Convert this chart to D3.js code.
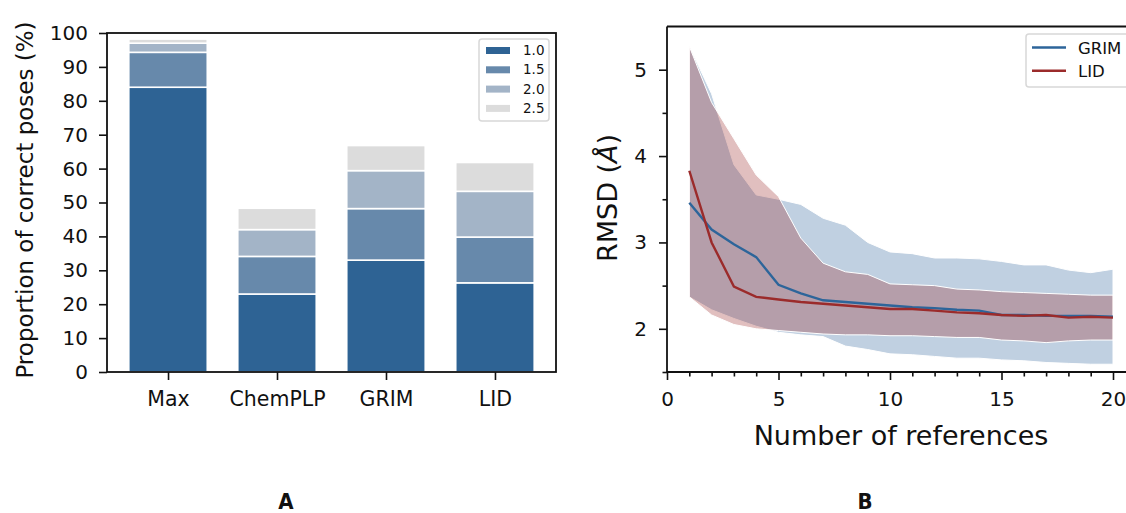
<!DOCTYPE html>
<html>
<head>
<meta charset="utf-8">
<script src="https://cdn.jsdelivr.net/npm/d3@7"></script>
<style>
  body { margin: 0; background: #fff; }
  text { font-family: "DejaVu Sans", sans-serif; fill: #111; }
</style>
</head>
<body>
<script>
// panel A data: cumulative % of correct poses at each RMSD cutoff
var methods = ["Max", "ChemPLP", "GRIM", "LID"];
var cutoffs = ["1.0", "1.5", "2.0", "2.5"];
var cut10 = [84.0, 23.0, 33.0, 26.3];
var cut15 = [94.3, 34.1, 48.2, 39.8];
var cut20 = [97.0, 42.0, 59.4, 53.3];
var cut25 = [98.2, 48.3, 66.8, 61.8];
var barColors = ["#2e6394", "#6789ab", "#a3b4c7", "#dcdcdc"];
var yTicksA = [0, 10, 20, 30, 40, 50, 60, 70, 80, 90, 100];

// panel B data: RMSD mean and band vs number of references
var nRefs = [1, 2, 3, 4, 5, 6, 7, 8, 9, 10, 11, 12, 13, 14, 15, 16, 17, 18, 19, 20];
var grimMean = [3.46, 3.15, 2.98, 2.83, 2.51, 2.41, 2.33, 2.31, 2.29, 2.27, 2.25, 2.24, 2.22, 2.21, 2.16, 2.16, 2.15, 2.15, 2.15, 2.14];
var grimHi   = [5.27, 4.72, 3.90, 3.55, 3.50, 3.44, 3.28, 3.20, 3.00, 2.89, 2.87, 2.82, 2.82, 2.81, 2.78, 2.74, 2.74, 2.68, 2.65, 2.69];
var grimLo   = [2.37, 2.22, 2.12, 2.03, 1.96, 1.93, 1.91, 1.80, 1.76, 1.71, 1.70, 1.68, 1.66, 1.66, 1.64, 1.63, 1.61, 1.60, 1.59, 1.59];
var lidMean  = [3.83, 3.00, 2.49, 2.37, 2.34, 2.31, 2.29, 2.27, 2.25, 2.23, 2.23, 2.21, 2.19, 2.18, 2.16, 2.15, 2.16, 2.13, 2.14, 2.13];
var lidHi    = [5.27, 4.62, 4.20, 3.78, 3.53, 3.05, 2.76, 2.66, 2.63, 2.52, 2.51, 2.50, 2.46, 2.45, 2.43, 2.42, 2.41, 2.40, 2.39, 2.39];
var lidLo    = [2.37, 2.16, 2.05, 2.00, 1.98, 1.96, 1.94, 1.93, 1.93, 1.92, 1.92, 1.91, 1.90, 1.90, 1.87, 1.86, 1.84, 1.86, 1.87, 1.87];
var grimColor = "#2d659a", lidColor = "#9b2b2b";

var W = 1126, H = 513;
var svg = d3.select("body").append("svg").attr("width", W).attr("height", H);

function styleAxis(a, size) {
    a.select(".domain").remove();
    a.selectAll("line").attr("stroke", "#111").attr("stroke-width", 1.6);
    a.selectAll("text").style("font-size", size + "px").attr("font-family", "DejaVu Sans").attr("fill", "#111");
}

// ---------- panel A ----------
var xA = d3.scaleLinear().domain([-0.56, 3.56]).range([107, 556]);
var yA = d3.scaleLinear().domain([0, 100]).range([372, 33]);
var bw = 0.72;
var stacks = [cut10, cut15, cut20, cut25];

var gA = svg.append("g");
stacks.forEach(function (vals, k) {
    gA.append("g").selectAll("rect")
        .data(vals)
        .join("rect")
        .attr("x", (d, i) => xA(i - bw / 2))
        .attr("width", xA(bw) - xA(0))
        .attr("y", d => yA(d))
        .attr("height", (d, i) => yA(k ? stacks[k - 1][i] : 0) - yA(d))
        .attr("fill", barColors[k])
        .attr("stroke", "#fff")
        .attr("stroke-width", 1.6);
});
// frame
gA.append("rect").attr("x", 107).attr("y", 33).attr("width", 449).attr("height", 339)
    .attr("fill", "none").attr("stroke", "#111").attr("stroke-width", 1.8);

var axA = gA.append("g").attr("transform", "translate(107,0)")
    .call(d3.axisLeft(yA).tickValues(yTicksA).tickSize(8).tickPadding(11));
styleAxis(axA, 20);

var axAx = gA.append("g").attr("transform", "translate(0,372)")
    .call(d3.axisBottom(xA).tickValues([0, 1, 2, 3]).tickFormat(i => methods[i]).tickSize(8).tickPadding(11));
styleAxis(axAx, 20.5);

gA.append("text").attr("transform", "translate(33,200) rotate(-90)")
    .attr("text-anchor", "middle").style("font-size", "23px")
    .text("Proportion of correct poses (%)");

// legend A
var legA = gA.append("g");
legA.append("rect").attr("x", 479).attr("y", 39).attr("width", 70).attr("height", 82)
    .attr("rx", 3).attr("fill", "#fff").attr("stroke", "#d8d8d8").attr("stroke-width", 1.5);
cutoffs.forEach(function (c, k) {
    var yy = 50.5 + k * 19.3;
    legA.append("rect").attr("x", 486).attr("y", yy - 3.5).attr("width", 24).attr("height", 7).attr("fill", barColors[k]);
    legA.append("text").attr("x", 523).attr("y", yy + 4.5).style("font-size", "13.5px").text(c);
});

// ---------- panel B ----------
var xB = d3.scaleLinear().domain([0, 20]).range([667, 1113]);
var yB = d3.scaleLinear().domain([1.5, 5.5]).range([372, 26.5]);
var gB = svg.append("g");

function band(lo, hi) {
    return d3.area().x((d, i) => xB(nRefs[i])).y0((d, i) => yB(lo[i])).y1((d, i) => yB(hi[i]))(nRefs);
}
gB.append("path").attr("d", band(grimLo, grimHi)).attr("fill", grimColor).attr("fill-opacity", 0.3)
    .attr("stroke", "#fff").attr("stroke-width", 1);
gB.append("path").attr("d", band(lidLo, lidHi)).attr("fill", lidColor).attr("fill-opacity", 0.3)
    .attr("stroke", "#fff").attr("stroke-width", 1);

var line = d3.line().x((d, i) => xB(nRefs[i])).y(d => yB(d));
gB.append("path").attr("d", line(grimMean)).attr("fill", "none").attr("stroke", grimColor).attr("stroke-width", 2.4);
gB.append("path").attr("d", line(lidMean)).attr("fill", "none").attr("stroke", lidColor).attr("stroke-width", 2.4);

// spines
gB.append("line").attr("x1", 667).attr("x2", 667).attr("y1", 26.5).attr("y2", 372).attr("stroke", "#111").attr("stroke-width", 1.8);
gB.append("line").attr("x1", 667).attr("x2", W).attr("y1", 372).attr("y2", 372).attr("stroke", "#111").attr("stroke-width", 1.8);
gB.append("line").attr("x1", 667).attr("x2", W).attr("y1", 26.5).attr("y2", 26.5).attr("stroke", "#111").attr("stroke-width", 1.8);

var ayB = gB.append("g").attr("transform", "translate(667,0)")
    .call(d3.axisLeft(yB).tickValues([2, 3, 4, 5]).tickFormat(d3.format("d")).tickSize(8).tickPadding(12));
var ayBm = gB.append("g").attr("transform", "translate(667,0)")
    .call(d3.axisLeft(yB).tickValues([1.5, 2.5, 3.5, 4.5]).tickFormat("").tickSize(4.5));
var axB = gB.append("g").attr("transform", "translate(0,372)")
    .call(d3.axisBottom(xB).tickValues([0, 5, 10, 15, 20]).tickSize(8).tickPadding(12));
var axBm = gB.append("g").attr("transform", "translate(0,372)")
    .call(d3.axisBottom(xB).tickValues(d3.range(0, 21).filter(v => v % 5)).tickFormat("").tickSize(4.5));
[ayB, ayBm, axB, axBm].forEach(a => styleAxis(a, 20));

gB.append("text").attr("transform", "translate(617,198) rotate(-90)")
    .attr("text-anchor", "middle").style("font-size", "27px")
    .html('RMSD (<tspan font-style="italic">Å</tspan>)');
gB.append("text").attr("x", 901).attr("y", 445).attr("text-anchor", "middle")
    .style("font-size", "27px").text("Number of references");

// legend B
var legB = gB.append("g");
legB.append("rect").attr("x", 1026).attr("y", 34).attr("width", 110).attr("height", 53)
    .attr("rx", 3).attr("fill", "#fff").attr("stroke", "#d8d8d8").attr("stroke-width", 1.5);
[["GRIM", grimColor], ["LID", lidColor]].forEach(function (e, k) {
    var yy = 47.5 + k * 23.3;
    legB.append("line").attr("x1", 1032).attr("x2", 1066).attr("y1", yy).attr("y2", yy)
        .attr("stroke", e[1]).attr("stroke-width", 2.4);
    legB.append("text").attr("x", 1078).attr("y", yy + 6).style("font-size", "16.5px").text(e[0]);
});

// panel letters
svg.append("text").attr("x", 286).attr("y", 509).attr("text-anchor", "middle")
    .style("font-family", "'DejaVu Sans Condensed', 'DejaVu Sans', sans-serif")
    .style("font-weight", "bold").style("font-size", "22px").text("A");
svg.append("text").attr("x", 865).attr("y", 509).attr("text-anchor", "middle")
    .style("font-family", "'DejaVu Sans Condensed', 'DejaVu Sans', sans-serif")
    .style("font-weight", "bold").style("font-size", "22px").text("B");
</script>
</body>
</html>
